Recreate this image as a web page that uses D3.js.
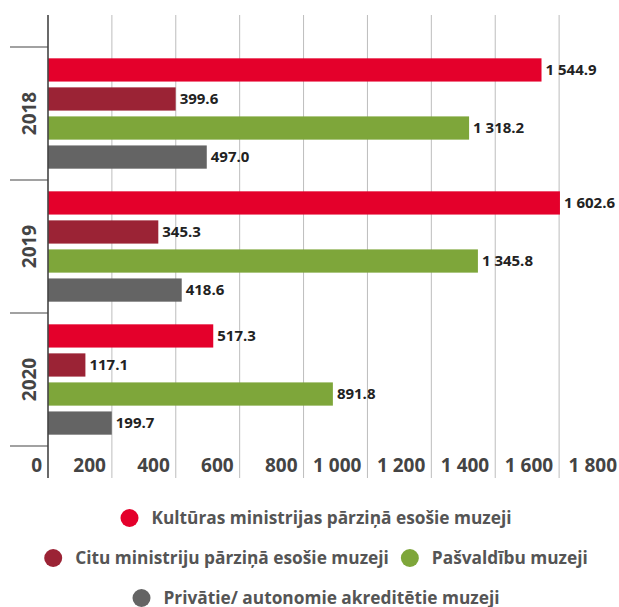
<!DOCTYPE html>
<html>
<head>
<meta charset="utf-8">
<script src="https://cdn.jsdelivr.net/npm/d3@7"></script>
<style>
  body { margin: 0; background: #fff; }
  svg text { font-family: "Open Sans", sans-serif; font-weight: bold; }
</style>
</head>
<body>
<div id="chart"></div>
<script>
var svgWidth = 619;
var svgHeight = 607;

// data
var years = ["2018", "2019", "2020"];
var seriesNames = [
  "Kultūras ministrijas pārziņā esošie muzeji",
  "Citu ministriju pārziņā esošie muzeji",
  "Pašvaldību muzeji",
  "Privātie/ autonomie akreditētie muzeji"
];
var seriesColors = ["#e4002b", "#9b2335", "#7ea63a", "#646464"];
var kulturas = [1544.9, 1602.6, 517.3];
var citu = [399.6, 345.3, 117.1];
var pasvaldibu = [1318.2, 1345.8, 891.8];
var privatie = [497.0, 418.6, 199.7];
var xTicks = [0, 200, 400, 600, 800, 1000, 1200, 1400, 1600, 1800];

var seriesValues = [kulturas, citu, pasvaldibu, privatie];

var fmt = function(v, dec) {
  var s = d3.format(dec ? ",.1f" : ",")(v);
  return s.replace(/,/g, " ");
};

var svg = d3.select("#chart")
  .append("svg")
  .attr("width", svgWidth)
  .attr("height", svgHeight);

// scales
var xScale = d3.scaleLinear()
  .domain([0, 1800])
  .range([48, 623]);

var yScale = d3.scaleBand()
  .domain(years)
  .range([47, 446]);

var ySeries = d3.scaleBand()
  .domain(d3.range(seriesNames.length))
  .range([0, yScale.bandwidth()])
  .paddingInner(0.2)
  .paddingOuter(0.39);

var plotTop = 15;
var plotBottom = 478;

// gridlines
svg.append("g")
  .selectAll("line")
  .data(xTicks.slice(1))
  .enter()
  .append("line")
  .attr("x1", d => xScale(d))
  .attr("x2", d => xScale(d))
  .attr("y1", plotTop)
  .attr("y2", plotBottom)
  .attr("stroke", "#bdbdbd")
  .attr("stroke-width", 1);

// x tick labels (sit just left of each gridline)
svg.append("g")
  .selectAll("text")
  .data(xTicks)
  .enter()
  .append("text")
  .attr("x", d => xScale(d) - 6)
  .attr("y", 472)
  .attr("text-anchor", "end")
  .attr("font-size", 19)
  .attr("fill", "#444")
  .text(d => fmt(d, false));

// bars
var groups = svg.append("g")
  .selectAll("g")
  .data(years)
  .enter()
  .append("g")
  .attr("transform", d => `translate(0, ${yScale(d)})`);

groups.each(function(year, yi) {
  var g = d3.select(this);
  var rows = seriesValues.map((vals, si) => ({ si: si, v: vals[yi] }));

  g.selectAll("rect")
    .data(rows)
    .enter()
    .append("rect")
    .attr("x", xScale(0))
    .attr("y", d => ySeries(d.si))
    .attr("width", d => xScale(d.v) - xScale(0))
    .attr("height", ySeries.bandwidth())
    .attr("fill", d => seriesColors[d.si]);

  g.selectAll("text")
    .data(rows)
    .enter()
    .append("text")
    .attr("x", d => xScale(d.v) + 4)
    .attr("y", d => ySeries(d.si) + ySeries.bandwidth() / 2)
    .attr("dy", "0.35em")
    .attr("font-size", 15)
    .attr("fill", "#222")
    .text(d => fmt(d.v, true));
});

// category separators on the left
var edges = years.map(d => yScale(d)).concat([yScale.range()[1]]);
svg.append("g")
  .selectAll("line")
  .data(edges)
  .enter()
  .append("line")
  .attr("x1", 10)
  .attr("x2", 48)
  .attr("y1", d => d)
  .attr("y2", d => d)
  .attr("stroke", "#444")
  .attr("stroke-width", 1.2);

// year labels
svg.append("g")
  .selectAll("text")
  .data(years)
  .enter()
  .append("text")
  .attr("transform", d => `translate(36, ${yScale(d) + yScale.bandwidth() / 2}) rotate(-90)`)
  .attr("text-anchor", "middle")
  .attr("font-size", 19)
  .attr("fill", "#444")
  .text(d => d);

// y axis line
svg.append("line")
  .attr("x1", 48)
  .attr("x2", 48)
  .attr("y1", plotTop)
  .attr("y2", plotBottom)
  .attr("stroke", "#444")
  .attr("stroke-width", 1.6);

// legend
var legendRows = [[0], [1, 2], [3]];
var legendY = [518, 558, 598];
var legendCenter = 316;

legendRows.forEach(function(row, ri) {
  var lg = svg.append("g");
  var x = 0;
  row.forEach(function(si, k) {
    var item = lg.append("g").attr("transform", `translate(${x}, 0)`);
    item.append("circle")
      .attr("cx", 9)
      .attr("cy", 0)
      .attr("r", 9)
      .attr("fill", seriesColors[si]);
    var t = item.append("text")
      .attr("x", 31)
      .attr("y", 0)
      .attr("dy", "0.35em")
      .attr("font-size", 17.3)
      .attr("fill", "#555")
      .text(seriesNames[si]);
    x += 31 + t.node().getComputedTextLength() + 12;
  });
  var w = x - 12;
  lg.attr("transform", `translate(${legendCenter - w / 2}, ${legendY[ri]})`);
});
</script>
</body>
</html>
